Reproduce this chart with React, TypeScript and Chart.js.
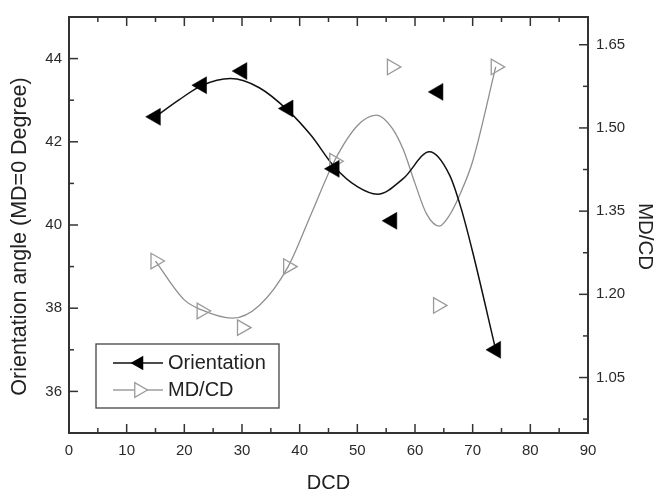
import React, { useEffect, useRef } from 'react';
import { Chart, registerables } from 'chart.js';

Chart.register(...registerables);

// ---- data ----
const dcd = [15, 23, 30, 38, 46, 56, 64, 74];
const orientation = [42.6, 43.36, 43.7, 42.8, 41.35, 40.1, 43.2, 37.0];
const mdcd = [1.26, 1.17, 1.14, 1.25, 1.44, 1.61, 1.18, 1.61];

// smoothed fit curves as drawn in the reference (sampled by eye)
const orientationCurveX = [15, 19, 23, 28, 33, 38, 42, 46, 50, 53.5, 58, 62.5, 66, 68, 70, 74];
const orientationCurveY = [42.6, 43.0, 43.35, 43.52, 43.3, 42.75, 42.15, 41.4, 40.92, 40.74, 41.12, 41.76, 41.2, 40.4, 39.35, 37.0];
const mdcdCurveX = [15, 20, 23, 28.3, 33, 38, 42, 46, 50, 53.3, 56, 58, 60, 62, 64.2, 66, 68, 70, 74];
const mdcdCurveY = [1.26, 1.19, 1.172, 1.157, 1.18, 1.25, 1.345, 1.44, 1.504, 1.523, 1.5, 1.46, 1.4, 1.345, 1.323, 1.343, 1.385, 1.44, 1.61];

// ticks
const xTickValues = [0, 5, 10, 15, 20, 25, 30, 35, 40, 45, 50, 55, 60, 65, 70, 75, 80, 85, 90];
const xTickLabels = ['0', '10', '20', '30', '40', '50', '60', '70', '80', '90'];
const leftTickValues = [35, 36, 37, 38, 39, 40, 41, 42, 43, 44, 45];
const leftTickLabels = ['36', '38', '40', '42', '44'];
const rightTickValues = [0.975, 1.05, 1.125, 1.2, 1.275, 1.35, 1.425, 1.5, 1.575, 1.65];
const rightTickLabels = ['1.05', '1.20', '1.35', '1.50', '1.65'];

const legendLabels = ['Orientation', 'MD/CD'];
const xTitle = 'DCD';
const leftTitle = 'Orientation angle (MD=0 Degree)';
const rightTitle = 'MD/CD';

const FONT = "'Liberation Sans', Arial, Helvetica, sans-serif";
const BLACK = '#111111';
const GRAY = '#8f8f8f';

function triangle(ctx: CanvasRenderingContext2D, x: number, y: number, r: number, rotDeg: number) {
  let rad = (rotDeg * Math.PI) / 180;
  ctx.beginPath();
  for (let i = 0; i < 3; i++) {
    const px = x + Math.sin(rad) * r;
    const py = y - Math.cos(rad) * r;
    if (i === 0) ctx.moveTo(px, py);
    else ctx.lineTo(px, py);
    rad += (2 * Math.PI) / 3;
  }
  ctx.closePath();
}

const framePlugin = {
  id: 'frameTicksLegend',
  afterDatasetsDraw(chart: any) {
    const { ctx, chartArea: a, scales } = chart;
    ctx.save();
    // frame
    ctx.strokeStyle = '#333';
    ctx.lineWidth = 2;
    ctx.strokeRect(a.left, a.top, a.right - a.left, a.bottom - a.top);
    // inward ticks
    ctx.lineWidth = 1.5;
    const major = 9;
    const minor = 5;
    const seg = (x1: number, y1: number, x2: number, y2: number) => {
      ctx.beginPath();
      ctx.moveTo(x1, y1);
      ctx.lineTo(x2, y2);
      ctx.stroke();
    };
    scales.x.ticks.forEach((t: any) => {
      const px = scales.x.getPixelForValue(t.value);
      const len = t.label ? major : minor;
      seg(px, a.bottom, px, a.bottom - len);
      seg(px, a.top, px, a.top + len);
    });
    scales.y.ticks.forEach((t: any) => {
      const py = scales.y.getPixelForValue(t.value);
      const len = t.label ? major : minor;
      seg(a.left, py, a.left + len, py);
    });
    scales.y1.ticks.forEach((t: any) => {
      const py = scales.y1.getPixelForValue(t.value);
      const len = t.label ? major : minor;
      seg(a.right, py, a.right - len, py);
    });

    // vertical axis titles
    ctx.fillStyle = '#222';
    ctx.textAlign = 'center';
    ctx.textBaseline = 'middle';
    ctx.save();
    ctx.translate(20.5, 236.5);
    ctx.rotate(-Math.PI / 2);
    ctx.font = `21.5px ${FONT}`;
    ctx.fillText(leftTitle, 0, 0);
    ctx.restore();
    ctx.save();
    ctx.translate(645, 236.5);
    ctx.rotate(Math.PI / 2);
    ctx.font = `20.5px ${FONT}`;
    ctx.fillText(rightTitle, 0, 0);
    ctx.restore();

    // legend box
    const bx = 96, by = 344, bw = 183, bh = 64;
    ctx.lineWidth = 1.3;
    ctx.strokeStyle = '#444';
    ctx.strokeRect(bx, by, bw, bh);
    const rows = [363, 390];
    ctx.font = `20px ${FONT}`;
    ctx.textBaseline = 'middle';
    ctx.textAlign = 'left';
    // row 1
    ctx.strokeStyle = BLACK;
    ctx.lineWidth = 1.5;
    seg(113, rows[0], 163, rows[0]);
    ctx.fillStyle = '#000';
    triangle(ctx, 139, rows[0], 8.5, -90);
    ctx.fill();
    ctx.fillStyle = '#222';
    ctx.fillText(legendLabels[0], 168, rows[0]);
    // row 2
    ctx.strokeStyle = GRAY;
    ctx.lineWidth = 1.3;
    seg(113, rows[1], 134, rows[1]);
    seg(146, rows[1], 163, rows[1]);
    triangle(ctx, 139, rows[1], 8.5, 90);
    ctx.strokeStyle = '#9a9a9a';
    ctx.stroke();
    ctx.fillStyle = '#222';
    ctx.fillText(legendLabels[1], 168, rows[1]);
    ctx.restore();
  },
};

export default function App() {
  const ref = useRef<HTMLCanvasElement | null>(null);

  useEffect(() => {
    document.body.style.margin = '0';
    const canvas = ref.current;
    if (!canvas) return;
    Chart.defaults.font.family = FONT;

    const chart = new Chart(canvas, {
      type: 'line',
      data: {
        datasets: [
          {
            label: legendLabels[0],
            data: dcd.map((x, i) => ({ x, y: orientation[i] })),
            yAxisID: 'y',
            showLine: false,
            pointStyle: 'triangle',
            pointRotation: -90,
            pointRadius: 9.8,
            pointBackgroundColor: '#000',
            pointBorderColor: '#000',
            pointBorderWidth: 0.5,
          } as any,
          {
            label: legendLabels[1],
            data: dcd.map((x, i) => ({ x, y: mdcd[i] })),
            yAxisID: 'y1',
            showLine: false,
            pointStyle: 'triangle',
            pointRotation: 90,
            pointRadius: 9,
            pointBackgroundColor: 'rgba(255,255,255,0)',
            pointBorderColor: '#9a9a9a',
            pointBorderWidth: 1.3,
          } as any,
          {
            label: 'orientation fit',
            data: orientationCurveX.map((x, i) => ({ x, y: orientationCurveY[i] })),
            yAxisID: 'y',
            borderColor: BLACK,
            borderWidth: 1.5,
            pointRadius: 0,
            cubicInterpolationMode: 'monotone',
            fill: false,
          } as any,
          {
            label: 'mdcd fit',
            data: mdcdCurveX.map((x, i) => ({ x, y: mdcdCurveY[i] })),
            yAxisID: 'y1',
            borderColor: GRAY,
            borderWidth: 1.3,
            pointRadius: 0,
            cubicInterpolationMode: 'monotone',
            fill: false,
          } as any,
        ],
      },
      options: {
        animation: false,
        responsive: false,
        maintainAspectRatio: false,
        devicePixelRatio: 1,
        events: [],
        layout: { padding: { top: 14, left: 0, right: 0, bottom: 0 } },
        plugins: {
          legend: { display: false },
          tooltip: { enabled: false },
        },
        scales: {
          x: {
            type: 'linear',
            position: 'bottom',
            min: 0,
            max: 90,
            afterBuildTicks: (s: any) => {
              s.ticks = xTickValues.map((v) => ({ value: v }));
            },
            afterFit: (s: any) => {
              s.height = 58;
            },
            ticks: {
              autoSkip: false,
              maxRotation: 0,
              padding: 9,
              color: '#2a2a2a',
              font: { size: 15 },
              callback: (v: any) => (xTickLabels.includes(String(v)) ? String(v) : ''),
            },
            grid: { display: false, drawTicks: false },
            border: { display: false },
            title: {
              display: true,
              text: xTitle,
              color: '#222',
              font: { size: 20, lineHeight: 1 },
              padding: { top: 0, bottom: -2 },
            },
          },
          y: {
            type: 'linear',
            position: 'left',
            min: 35,
            max: 45,
            afterBuildTicks: (s: any) => {
              s.ticks = leftTickValues.map((v) => ({ value: v }));
            },
            afterFit: (s: any) => {
              s.width = 69;
            },
            ticks: {
              autoSkip: false,
              padding: 7,
              color: '#2a2a2a',
              font: { size: 15 },
              callback: (v: any) => (leftTickLabels.includes(String(v)) ? String(v) : ''),
            },
            grid: { display: false, drawTicks: false },
            border: { display: false },
            title: { display: false },
          },
          y1: {
            type: 'linear',
            position: 'right',
            min: 0.95,
            max: 1.7,
            afterBuildTicks: (s: any) => {
              s.ticks = rightTickValues.map((v) => ({ value: v }));
            },
            afterFit: (s: any) => {
              s.width = 66;
            },
            ticks: {
              autoSkip: false,
              padding: 8,
              color: '#2a2a2a',
              font: { size: 15 },
              callback: (v: any) => {
                const s = Number(v).toFixed(2);
                return rightTickLabels.includes(s) ? s : '';
              },
            },
            grid: { display: false, drawTicks: false },
            border: { display: false },
            title: { display: false },
          },
        },
      } as any,
      plugins: [framePlugin],
    });

    return () => {
      chart.destroy();
    };
  }, []);

  return (
    <div style={{ width: 654, height: 491, background: '#fff' }}>
      <canvas ref={ref} width={654} height={491} style={{ display: 'block' }} />
    </div>
  );
}
